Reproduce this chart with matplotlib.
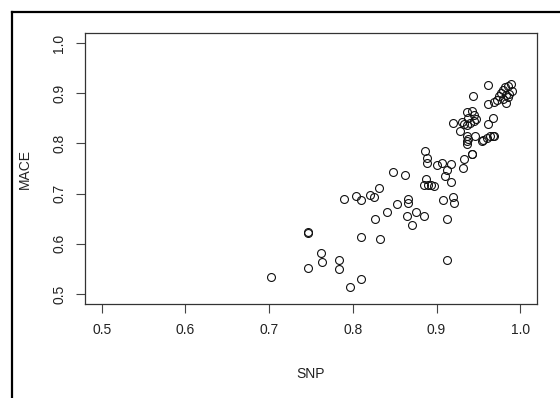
import matplotlib
matplotlib.use("Agg")
import matplotlib.pyplot as plt
from matplotlib.lines import Line2D

plt.rcParams['font.family'] = ['Liberation Sans', 'DejaVu Sans']

# SNP vs MACE accuracy
snp = [0.702, 0.746, 0.746, 0.746, 0.762, 0.763, 0.783, 0.783, 0.797, 0.810,
       0.810, 0.789, 0.804, 0.810, 0.821, 0.825, 0.831, 0.832, 0.826, 0.841,
       0.853, 0.866, 0.866, 0.865, 0.875, 0.871, 0.885, 0.912, 0.912, 0.908,
       0.920, 0.921, 0.848, 0.862, 0.886, 0.889, 0.889, 0.900, 0.906, 0.917,
       0.913, 0.910, 0.917, 0.888, 0.885, 0.890, 0.894, 0.897, 0.933, 0.942,
       0.932,
       0.961, 0.944, 0.989, 0.986, 0.982, 0.979, 0.990, 0.977, 0.987, 0.983,
       0.975, 0.985, 0.980, 0.972, 0.969, 0.983, 0.961, 0.920, 0.931, 0.933,
       0.936, 0.936, 0.943, 0.945, 0.938, 0.945, 0.967, 0.962, 0.928, 0.936,
       0.938, 0.936, 0.937, 0.946, 0.956, 0.960, 0.964, 0.967, 0.969, 0.954,
       0.942, 0.940, 0.947]
mace = [0.533, 0.623, 0.621, 0.552, 0.582, 0.564, 0.568, 0.550, 0.515, 0.529,
        0.613, 0.690, 0.696, 0.688, 0.698, 0.694, 0.711, 0.610, 0.650, 0.663,
        0.680, 0.689, 0.681, 0.655, 0.663, 0.638, 0.655, 0.650, 0.568, 0.688,
        0.693, 0.681, 0.743, 0.738, 0.784, 0.771, 0.762, 0.758, 0.762, 0.759,
        0.748, 0.736, 0.723, 0.729, 0.718, 0.718, 0.718, 0.716, 0.770, 0.778,
        0.752,
        0.917, 0.895, 0.919, 0.914, 0.912, 0.907, 0.905, 0.900, 0.899, 0.896,
        0.894, 0.892, 0.889, 0.887, 0.882, 0.880, 0.878, 0.841, 0.842, 0.839,
        0.837, 0.862, 0.865, 0.857, 0.851, 0.845, 0.851, 0.839, 0.824, 0.815,
        0.809, 0.804, 0.799, 0.814, 0.807, 0.811, 0.815, 0.815, 0.814, 0.804,
        0.779, 0.840, 0.848]

ticks = [0.5, 0.6, 0.7, 0.8, 0.9, 1.0]

fig = plt.figure(figsize=(5.6, 3.98), dpi=100)
ax = fig.add_axes([0.1518, 0.236, 0.807, 0.681])

ax.plot(snp, mace, linestyle='none', marker='o', markersize=5.7,
        markerfacecolor='none', markeredgecolor='#111111', markeredgewidth=0.8)

ax.set_xlim(0.48, 1.02)
ax.set_ylim(0.48, 1.02)
ax.set_xticks(ticks)
ax.set_yticks(ticks)
ax.set_xticklabels(['%.1f' % t for t in ticks])
ax.set_yticklabels(['%.1f' % t for t in ticks], rotation=90, va='center')
ax.tick_params(length=6.5, width=0.8, labelsize=10, pad=7, color='#444444',
               labelcolor='#222222')
for s in ax.spines.values():
    s.set_linewidth(0.9)
    s.set_color('#333333')

ax.set_xlabel('SNP', fontsize=10, color='#222222')
ax.set_ylabel('MACE', fontsize=10, color='#222222')
ax.xaxis.set_label_coords(0.5, -0.231)
ax.yaxis.set_label_coords(-0.118, 0.5)

# outer frame (left and top edges visible)
fig.add_artist(Line2D([12 / 560, 12 / 560], [0, 1 - 12 / 398], transform=fig.transFigure,
                      color='black', linewidth=1.6))
fig.add_artist(Line2D([12 / 560, 1], [1 - 12 / 398, 1 - 12 / 398], transform=fig.transFigure,
                      color='black', linewidth=1.6))

fig.savefig('out.png', dpi=100)
